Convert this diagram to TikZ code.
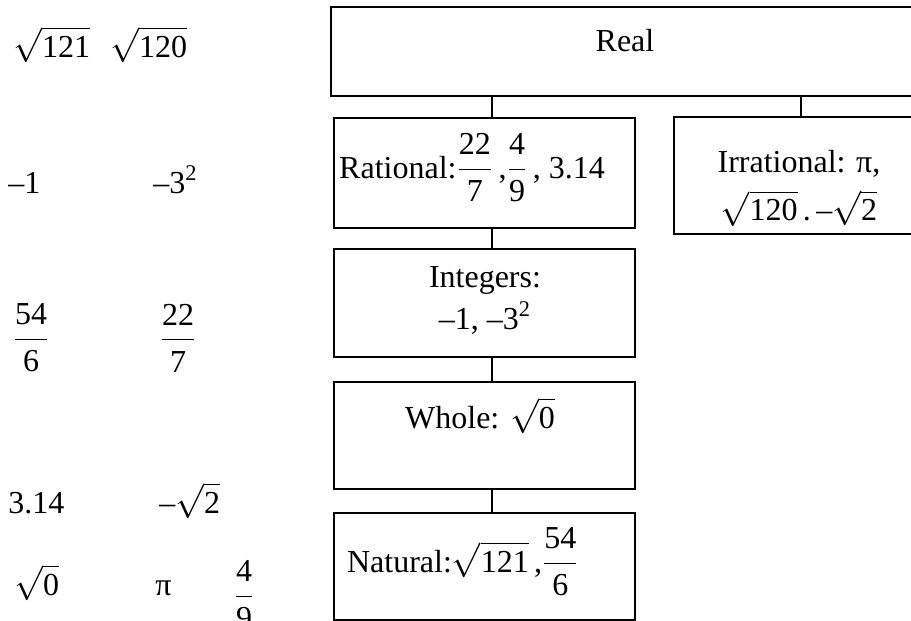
\documentclass[tikz,border=0pt]{standalone}
\usepackage{fontspec}
\setmainfont{Liberation Serif}
\usetikzlibrary{positioning}

% radicals and fractions with text digits
\newcommand{\rt}[1]{$\sqrt{\mbox{#1}}$}
\newcommand{\fr}[2]{$\displaystyle\frac{\mbox{#1}}{\mbox{#2}}$}

\begin{document}
\begin{tikzpicture}[
    x=0.5pt, y=-0.5pt, % one unit per pixel, y pointing down
    txt/.style={inner sep=0pt, font=\fontsize{16}{19}\selectfont}, % all labels
    numbox/.style={draw, line width=1pt, inner sep=0pt, anchor=north west}, % set boxes
    openbox/.style={numbox, draw=none}, % boxes cut by the right edge
    edge/.style={line width=1pt},
    link/.style={line width=0.6pt} % connectors
]
    \useasboundingbox (0,0) rectangle (911,621);

    % Loose numbers on the left
    \node[txt, anchor=base west] (n121) at (13,57)  {\rt{121}};
    \node[txt, anchor=base west] (n120) at (110,57) {\rt{120}};
    \node[txt, anchor=base west] (nm1)  at (8,193)  {–1};
    \node[txt, anchor=base west] (nm3)  at (153,193) {–3\textsuperscript{2}};
    \node[txt] (n546) at (31,338)  {\fr{54}{6}};
    \node[txt] (n227) at (178,338) {\fr{22}{7}};
    \node[txt, anchor=base west] (n314) at (8,513)   {3.14};
    \node[txt, anchor=base west] (nm2)  at (159,513) {–\rt{2}};
    \node[txt, anchor=base west] (n0)   at (14,595)  {\rt{0}};
    \node[txt, anchor=base west] (npi)  at (155,595) {π};
    \node[txt] (n49) at (244,595) {\fr{4}{9}};

    % Boxes of the number sets
    \node[openbox, minimum width=300pt,   minimum height=43.5pt] (real)       at (331,7)   {};
    \node[numbox,  minimum width=150.5pt, minimum height=55pt]   (rational)   at (333,117) {};
    \node[openbox, minimum width=130pt,   minimum height=57.5pt] (irrational) at (674,117) {};
    \node[numbox,  minimum width=150.5pt, minimum height=54pt]   (integers)   at (333,248) {};
    \node[numbox,  minimum width=150.5pt, minimum height=53.5pt] (whole)      at (333,381) {};
    \node[numbox,  minimum width=150.5pt, minimum height=53.5pt] (natural)    at (333,512) {};
    % Real and Irrational run past the right edge
    \draw[edge] (real.north east) -- (real.north west) -- (real.south west) -- (real.south east);
    \draw[edge] (irrational.north east) -- (irrational.north west)
        -- (irrational.south west) -- (irrational.south east);

    % Labels inside the boxes
    \node[txt, anchor=base] (realtxt) at (625,51) {Real};
    \node[txt, anchor=base] (rattxt)  at (472,178) {Rational:\fr{22}{7}\,,\fr{4}{9}\,, 3.14};
    \node[txt, align=center, anchor=north] (irrtxt) at (799,150)
        {Irrational: π,\\[5pt] \rt{120}\,.\,–\rt{2}};
    \node[txt, align=center, anchor=north] (inttxt) at (485,266)
        {Integers:\\[2pt] –1, –3\textsuperscript{2}};
    \node[txt, anchor=base] (whotxt)  at (480,428) {Whole: \rt{0}};
    \node[txt, anchor=base] (nattxt)  at (463,572) {Natural:\rt{121}\,,\fr{54}{6}};

    % Connectors
    \coordinate (spine)  at (492,0);
    \coordinate (branch) at (801,0);
    \draw[link] (real.south -| spine)      -- (rational.north -| spine);
    \draw[link] (real.south -| branch)     -- (irrational.north -| branch);
    \draw[link] (rational.south -| spine)  -- (integers.north -| spine);
    \draw[link] (integers.south -| spine)  -- (whole.north -| spine);
    \draw[link] (whole.south -| spine)     -- (natural.north -| spine);

\end{tikzpicture}
\end{document}
